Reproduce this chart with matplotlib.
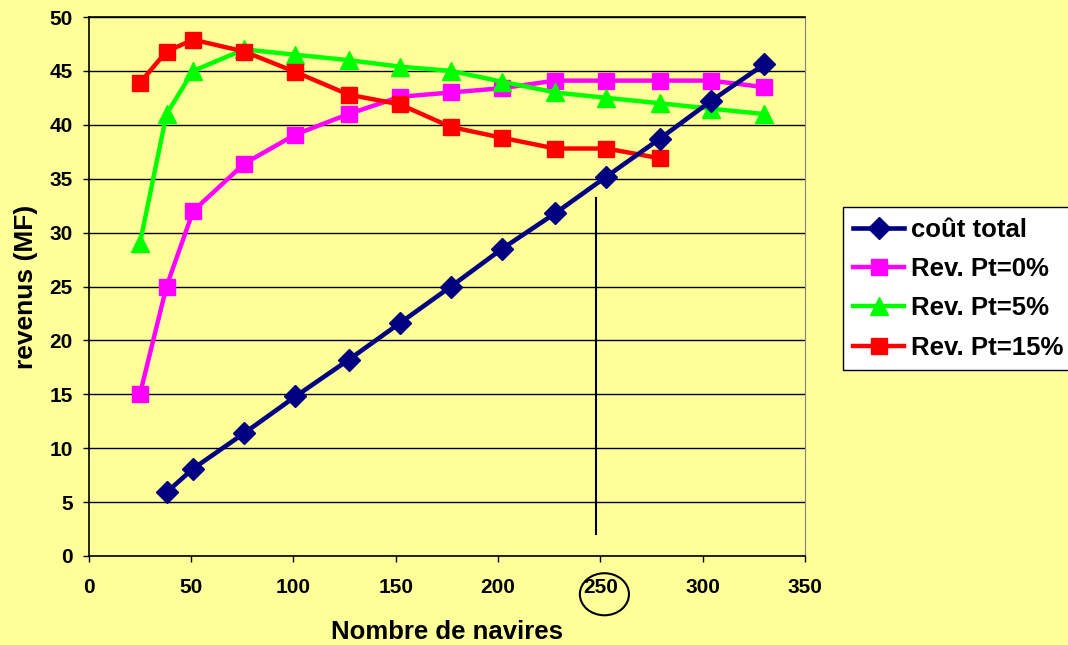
import matplotlib
matplotlib.use("Agg")
from matplotlib import pyplot as plt
from matplotlib.patches import Ellipse

plt.rcParams["font.family"] = ["Liberation Sans", "DejaVu Sans"]
plt.rcParams["font.weight"] = "bold"

# Valeurs
navires = [25, 38, 51, 76, 101, 127, 152, 177, 202, 228, 253, 279, 304, 330]
navires_cout = navires[1:]
cout_total = [5.9, 8.1, 11.4, 14.8, 18.2, 21.6, 25.0, 28.5, 31.8, 35.2, 38.7, 42.2, 45.6]
rev_pt0 = [15.0, 25.0, 32.0, 36.4, 39.1, 41.0, 42.6, 43.0, 43.4, 44.1, 44.1, 44.1, 44.1, 43.5]
rev_pt5 = [29.0, 41.0, 45.0, 47.0, 46.5, 46.0, 45.4, 45.0, 44.0, 43.0, 42.5, 42.0, 41.5, 41.0]
navires_15 = navires[:12]
rev_pt15 = [43.9, 46.8, 47.9, 46.8, 44.9, 42.8, 41.9, 39.8, 38.8, 37.8, 37.8, 36.9]

x_ticks = [0, 50, 100, 150, 200, 250, 300, 350]
y_ticks = [0, 5, 10, 15, 20, 25, 30, 35, 40, 45, 50]

fond = "#FFFF99"

fig = plt.figure(figsize=(10.68, 6.45), dpi=100, facecolor=fond)
ax = fig.add_axes([0.0831, 0.138, 0.6706, 0.8356])
ax.set_facecolor(fond)

ax.plot(navires_cout, cout_total, color="#000080", lw=3.3, marker="D", ms=11.5,
        label="coût total", zorder=5)
ax.plot(navires, rev_pt0, color="#FF00FF", lw=3.2, marker="s", ms=12,
        label="Rev. Pt=0%", zorder=3)
ax.plot(navires, rev_pt5, color="#00FF00", lw=3.2, marker="^", ms=13,
        label="Rev. Pt=5%", zorder=3)
ax.plot(navires_15, rev_pt15, color="#FF0000", lw=3.2, marker="s", ms=12,
        label="Rev. Pt=15%", zorder=4)

# trait vertical vers 250 navires
ax.plot([248, 248], [2, 33.2], color="black", lw=1.5, zorder=2)

ax.set_xlim(0, 350)
ax.set_ylim(0, 50)
ax.set_xticks(x_ticks)
ax.set_yticks(y_ticks)
ax.tick_params(labelsize=15, length=4.5, width=1, direction="out")
ax.tick_params(axis="x", pad=11)
ax.tick_params(axis="y", pad=7)
ax.yaxis.grid(True, color="black", lw=1)
ax.set_axisbelow(True)
for s in ["left", "bottom", "top"]:
    ax.spines[s].set_color("black")
    ax.spines[s].set_linewidth(1.2)
ax.spines["right"].set_color("#808080")

ax.set_xlabel("Nombre de navires", fontsize=18.5, fontweight="bold", labelpad=17)
ax.set_ylabel("revenus (MF)", fontsize=19, fontweight="bold", labelpad=8)

# cercle autour de 250
ax.add_patch(Ellipse((252, -3.55), 24, 3.9, fill=False, edgecolor="black",
                     lw=1.5, clip_on=False))

leg = fig.legend(loc="upper left", bbox_to_anchor=(842.7 / 1068, 1 - 207.3 / 645),
                 fontsize=18.5, frameon=True, fancybox=False, edgecolor="black",
                 facecolor="white", framealpha=1, handlelength=2.0,
                 handletextpad=0.25, labelspacing=0.6, borderpad=0.4,
                 borderaxespad=0)
leg.get_frame().set_linewidth(1)

fig.savefig("out.png", dpi=100, facecolor=fond)
